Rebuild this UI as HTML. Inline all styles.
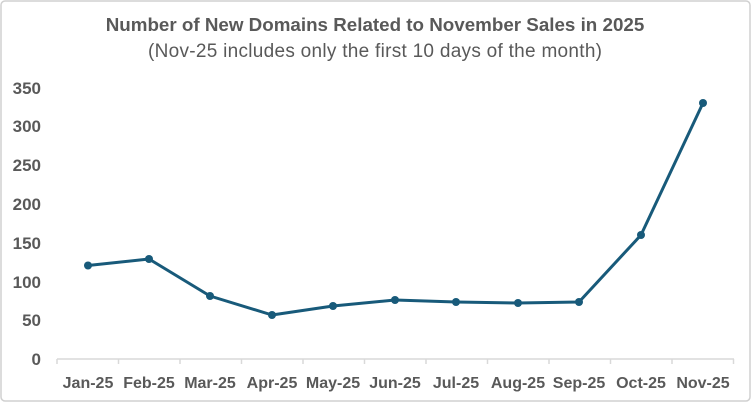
<!DOCTYPE html><html><head><style>body{margin:0;background:#fff}svg{display:block}text{font-family:"Liberation Sans",sans-serif}</style></head><body>
<svg width="751" height="403" viewBox="0 0 751 403">
<rect x="1" y="1" width="749" height="400" rx="4" fill="#fff" stroke="#d0d0d0" stroke-width="1.5"/>
<text x="375" y="31" text-anchor="middle" font-size="18.8" font-weight="bold" fill="#595959">Number of New Domains Related to November Sales in 2025</text>
<text x="375" y="57" text-anchor="middle" font-size="19" fill="#595959" textLength="454">(Nov-25 includes only the first 10 days of the month)</text>
<g font-size="17" font-weight="bold" fill="#595959" text-anchor="end">
<text x="41" y="365">0</text><text x="41" y="326">50</text><text x="41" y="288">100</text><text x="41" y="249">150</text><text x="41" y="210">200</text><text x="41" y="171">250</text><text x="41" y="132">300</text><text x="41" y="94">350</text>
</g>
<g stroke="#d9d9d9" stroke-width="1.5">
<line x1="57" y1="359" x2="734" y2="359"/>
<line x1="57" y1="359" x2="57" y2="364"/><line x1="118.5" y1="359" x2="118.5" y2="364"/><line x1="180" y1="359" x2="180" y2="364"/><line x1="241.5" y1="359" x2="241.5" y2="364"/><line x1="303" y1="359" x2="303" y2="364"/><line x1="364.5" y1="359" x2="364.5" y2="364"/><line x1="426" y1="359" x2="426" y2="364"/><line x1="487.5" y1="359" x2="487.5" y2="364"/><line x1="549" y1="359" x2="549" y2="364"/><line x1="610.5" y1="359" x2="610.5" y2="364"/><line x1="672" y1="359" x2="672" y2="364"/><line x1="733.5" y1="359" x2="733.5" y2="364"/>
</g>
<g font-size="16" font-weight="bold" fill="#595959" text-anchor="middle">
<text x="88" y="388">Jan-25</text><text x="149" y="388">Feb-25</text><text x="210" y="388">Mar-25</text><text x="272" y="388">Apr-25</text><text x="333" y="388">May-25</text><text x="395" y="388">Jun-25</text><text x="456" y="388">Jul-25</text><text x="518" y="388">Aug-25</text><text x="579" y="388">Sep-25</text><text x="641" y="388">Oct-25</text><text x="703" y="388">Nov-25</text>
</g>
<polyline fill="none" stroke="#185a7a" stroke-width="3" stroke-linejoin="round" points="88,265.5 149,259 210,296 272,315 333,306 395,300 456,302 518,303 579,302 641,235 703,103"/>
<g fill="#185a7a">
<circle cx="88" cy="265.5" r="4"/><circle cx="149" cy="259" r="4"/><circle cx="210" cy="296" r="4"/><circle cx="272" cy="315" r="4"/><circle cx="333" cy="306" r="4"/><circle cx="395" cy="300" r="4"/><circle cx="456" cy="302" r="4"/><circle cx="518" cy="303" r="4"/><circle cx="579" cy="302" r="4"/><circle cx="641" cy="235" r="4"/><circle cx="703" cy="103" r="4"/>
</g>
</svg></body></html>
